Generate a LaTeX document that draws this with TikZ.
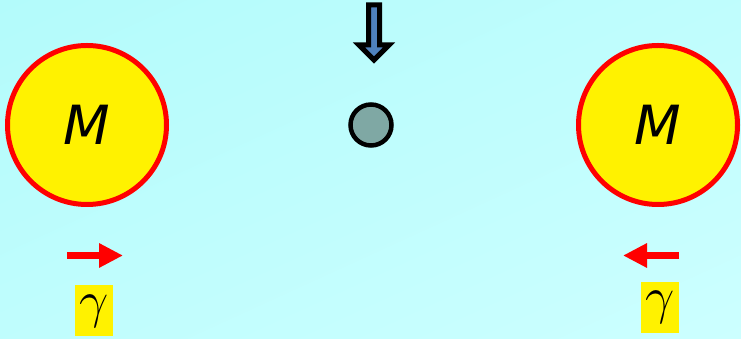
\RequirePackage{fix-cm}
\documentclass[tikz,border=0pt]{standalone}
\usepackage{fontspec}
\usepackage{tikz}
\usetikzlibrary{arrows.meta, positioning, calc, shadings}
\newfontfamily\massfont{DejaVu Sans}
\definecolor{bgtop}{HTML}{B3FBFB}
\definecolor{bgbot}{HTML}{CCFFFF}
\definecolor{probefill}{HTML}{7FA8A4}
\definecolor{fallblue}{HTML}{4F81BD}

\begin{document}
\begin{tikzpicture}[x=1pt, y=1pt,
        mass/.style={circle, draw=red, line width=5pt, fill=yellow, minimum size=159pt, inner sep=0pt, font=\massfont\itshape\fontsize{54}{54}\selectfont},
        probe/.style={circle, draw=black, line width=4.5pt, fill=probefill, minimum size=41pt, inner sep=0pt},
        photon/.style={fill=yellow, minimum width=38pt, minimum height=51pt, inner sep=0pt, font=\fontsize{52}{52}\selectfont},
        push/.style={red, line width=7pt, -{Triangle[length=24pt, width=23pt]}}]
        \useasboundingbox[shade, upper left=bgtop, lower right=bgbot, upper right=bgtop!50!bgbot, lower left=bgtop!50!bgbot] (0,0) rectangle (741,339);
        \node[mass] (massL) at (87,214) {M};
        \node[mass] (massR) at (658,214) {M};
        \node[probe] (probe) at (371,214) {};
        \node[photon] (gamL) at (94,28) {$\gamma$};
        \node[photon] (gamR) at (660,31.5) {$\gamma$};
        % red pushes above the gamma labels
        \coordinate (pushL) at (67,83.5);
        \coordinate (pushR) at (679,83.5);
        \draw[push] (pushL) -- +(56,0);
        \draw[push] (pushR) -- +(-56,0);
        % falling block arrow above the probe
        \draw[line width=5pt, fill=fallblue, miter limit=10]
            (368.5,334) -- (379.5,334) -- (379.5,294) -- (389,294) -- (374,279)
            -- (359,294) -- (368.5,294) -- cycle;
    \end{tikzpicture}
\end{document}
